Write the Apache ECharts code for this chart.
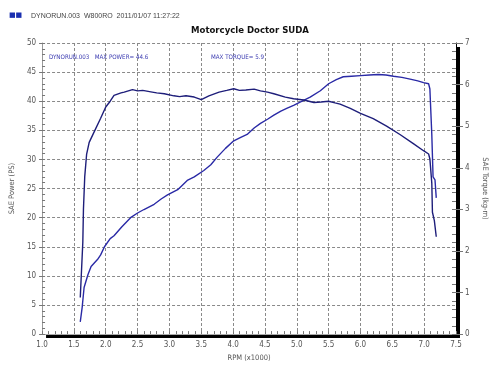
<!DOCTYPE html>
<html>
<head>
<meta charset="utf-8">
<script src="https://cdn.jsdelivr.net/npm/echarts@6/dist/echarts.min.js"></script>
<style>
html,body{margin:0;padding:0;background:#fff;}
#c{width:500px;height:367px;}
</style>
</head>
<body>
<div id="c"></div>
<script>
// ---- data ----
const powerRpm = [1.60,1.63,1.66,1.72,1.77,1.87,1.92,1.98,2.07,2.13,2.25,2.39,2.50,2.60,2.76,2.87,2.97,3.13,3.28,3.39,3.54,3.65,3.75,3.88,4.01,4.12,4.22,4.33,4.43,4.54,4.64,4.75,4.85,4.95,5.06,5.21,5.37,5.50,5.62,5.73,5.86,6.00,6.14,6.28,6.40,6.52,6.65,6.78,6.90,6.99,7.07,7.09,7.12,7.14,7.17,7.19];
const powerPS  = [2.1,4.6,8.0,10.2,11.6,12.8,13.6,15.0,16.4,16.9,18.4,20.0,20.8,21.4,22.3,23.2,23.9,24.8,26.4,27.0,28.1,29.1,30.4,31.9,33.2,33.8,34.3,35.4,36.2,36.9,37.6,38.3,38.8,39.3,39.9,40.7,41.8,43.0,43.7,44.2,44.3,44.4,44.5,44.6,44.5,44.3,44.1,43.8,43.5,43.2,43.0,42.1,34.3,27.0,26.5,23.4];
const torqueRpm = [1.60,1.64,1.65,1.67,1.70,1.74,1.82,1.92,2.00,2.07,2.13,2.24,2.29,2.42,2.50,2.58,2.73,2.80,2.92,3.07,3.16,3.26,3.39,3.50,3.62,3.78,3.90,4.01,4.10,4.20,4.33,4.43,4.54,4.64,4.82,4.95,5.11,5.27,5.38,5.50,5.60,5.68,5.84,6.00,6.20,6.41,6.62,6.83,6.99,7.07,7.09,7.12,7.13,7.16,7.19];
const torqueKgm = [0.88,2.21,3.00,3.78,4.33,4.61,4.87,5.19,5.46,5.60,5.74,5.80,5.82,5.88,5.85,5.86,5.82,5.80,5.78,5.73,5.71,5.73,5.70,5.64,5.73,5.82,5.86,5.90,5.86,5.87,5.89,5.85,5.82,5.78,5.70,5.66,5.63,5.57,5.58,5.60,5.56,5.53,5.43,5.31,5.18,5.00,4.80,4.58,4.41,4.33,4.21,3.63,2.93,2.73,2.34];
const powerTicks = [0,5,10,15,20,25,30,35,40,45,50];
const torqueTicks = [0,1,2,3,4,5,6,7];
const rpmTicks = [1.0,1.5,2.0,2.5,3.0,3.5,4.0,4.5,5.0,5.5,6.0,6.5,7.0,7.5];
const headerText = 'DYNORUN.003  W800RO  2011/01/07 11:27:22';
const titleText = 'Motorcycle Doctor SUDA';
const infoPower = 'DYNORUN.003   MAX POWER= 44.6';
const infoTorque = 'MAX TORQUE= 5.9';

const pair = (xs, ys) => xs.map((x, i) => [x, ys[i]]);

const chart = echarts.init(document.getElementById('c'), null, {renderer: 'canvas'});
const narrow = '"Liberation Sans Narrow","DejaVu Sans Condensed","Liberation Sans",sans-serif';
const labelColor = '#555';
const gridDash = {color: '#8a8a8a', width: 1, type: [3, 2]};

chart.setOption({
  animation: false,
  backgroundColor: '#fff',
  title: [
    {text: titleText, left: 'center', top: 21,
     textStyle: {fontFamily: '"DejaVu Sans Condensed","DejaVu Sans",sans-serif', fontWeight: 'bold', fontSize: 9.5, color: '#111'}},
    {text: '■■', left: 4, top: 7, textStyle: {fontSize: 7, color: '#1a2fb0', fontWeight: 'normal', fontFamily: 'DejaVu Sans'}},
    {text: headerText, left: 26, top: 8, textStyle: {fontSize: 7, color: '#444', fontWeight: 'normal', fontFamily: '"Liberation Sans",sans-serif'}},
    {text: infoPower, left: 44, top: 49, textStyle: {fontSize: 6.2, color: '#3a3ab0', fontWeight: 'normal', fontFamily: narrow}},
    {text: infoTorque, left: 206, top: 49, textStyle: {fontSize: 6.2, color: '#3a3ab0', fontWeight: 'normal', fontFamily: narrow}}
  ],
  grid: {
    left: 41, right: 44, top: 43, bottom: 26,
    show: true, backgroundColor: '#fff', borderWidth: 0,
    shadowColor: '#000', shadowBlur: 0, shadowOffsetX: 4, shadowOffsetY: 4
  },
  xAxis: [
    {
      type: 'value', min: 1.0, max: 7.5, interval: 0.5, position: 'bottom',
      name: 'RPM (x1000)', nameLocation: 'middle', nameGap: 17,
      nameTextStyle: {fontSize: 7.5, color: labelColor, fontFamily: narrow},
      axisLine: {show: true, lineStyle: {color: '#999'}},
      axisTick: {show: false},
      axisLabel: {margin: 7, fontSize: 8, color: labelColor, fontFamily: narrow,
        formatter: v => { const t = rpmTicks.find(r => Math.abs(r - v) < 1e-6); return t === undefined ? '' : t.toFixed(1); }},
      splitLine: {show: true, lineStyle: gridDash}
    },
    {
      type: 'value', min: 1.0, max: 7.5, interval: 0.1, position: 'bottom',
      axisLine: {show: false}, axisLabel: {show: false}, splitLine: {show: false},
      axisTick: {show: true, inside: true, length: 3, lineStyle: {color: '#777'}}
    },
    {
      type: 'value', min: 1.0, max: 7.5, position: 'top',
      axisLine: {show: true, lineStyle: {color: '#aaa'}}, axisLabel: {show: false},
      splitLine: {show: false}, axisTick: {show: false}
    }
  ],
  yAxis: [
    {
      type: 'value', min: 0, max: 50, interval: 5, position: 'left',
      name: 'SAE Power (PS)', nameLocation: 'middle', nameGap: 20, nameRotate: 90,
      nameTextStyle: {fontSize: 7.5, color: labelColor, fontFamily: narrow},
      axisLine: {show: true, lineStyle: {color: '#999'}},
      axisTick: {show: true, length: 3, lineStyle: {color: '#777'}},
      axisLabel: {margin: 6, fontSize: 8, color: labelColor, fontFamily: narrow,
        formatter: v => powerTicks.includes(v) ? String(v) : ''},
      splitLine: {show: true, lineStyle: gridDash}
    },
    {
      type: 'value', min: 0, max: 7, interval: 1, position: 'right',
      name: 'SAE Torque (kg-m)', nameLocation: 'middle', nameGap: 22, nameRotate: -90,
      nameTextStyle: {fontSize: 7.5, color: labelColor, fontFamily: narrow},
      axisLine: {show: true, lineStyle: {color: '#000'}},
      axisTick: {show: true, length: 7, lineStyle: {color: '#777'}},
      axisLabel: {margin: 9, fontSize: 8, color: labelColor, fontFamily: narrow,
        formatter: v => torqueTicks.includes(v) ? String(v) : ''},
      splitLine: {show: false}
    },
    {
      type: 'value', min: 0, max: 50, interval: 1, position: 'left',
      axisLine: {show: false}, axisLabel: {show: false}, splitLine: {show: false},
      axisTick: {show: true, inside: true, length: 3, lineStyle: {color: '#777'}}
    },
    {
      type: 'value', min: 0, max: 7, interval: 0.2, position: 'right',
      axisLine: {show: false}, axisLabel: {show: false}, splitLine: {show: false},
      axisTick: {show: true, inside: true, length: 4, lineStyle: {color: '#777'}}
    }
  ],
  series: [
    {
      name: 'SAE Power', type: 'line', xAxisIndex: 0, yAxisIndex: 0,
      data: pair(powerRpm, powerPS), showSymbol: false, smooth: false,
      lineStyle: {color: '#2a2aa6', width: 1.4}
    },
    {
      name: 'SAE Torque', type: 'line', xAxisIndex: 0, yAxisIndex: 1,
      data: pair(torqueRpm, torqueKgm), showSymbol: false, smooth: false,
      lineStyle: {color: '#1e1e7a', width: 1.4}
    }
  ]
});
</script>
</body>
</html>
